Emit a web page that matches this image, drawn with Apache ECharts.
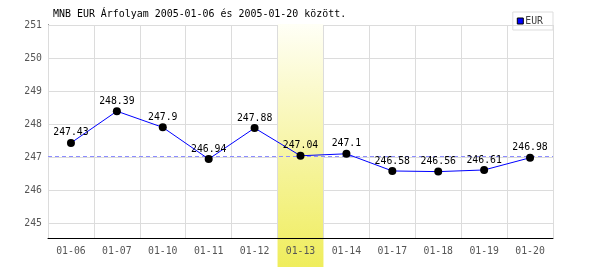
<!DOCTYPE html>
<html><head><meta charset="utf-8">
<script src="https://cdn.jsdelivr.net/npm/echarts@6/dist/echarts.min.js"></script>
<style>html,body{margin:0;padding:0;background:#fff}#c{width:600px;height:270px}</style>
</head><body><div id="c"></div>
<script>
var categories = ['01-06','01-07','01-10','01-11','01-12','01-13','01-14','01-17','01-18','01-19','01-20'];
var eurValues = [247.43,248.39,247.9,246.94,247.88,247.04,247.1,246.58,246.56,246.61,246.98];
var highlightDay = '01-13';
var referenceValue = 247.04;
var yTicks = [245,246,247,248,249,250,251];
var titleText = 'MNB EUR Árfolyam 2005-01-06 és 2005-01-20 között.';
var seriesName = 'EUR';

var bandData = categories.map(function(c){ return c === highlightDay ? 1 : null; });
var font = 'DejaVu Sans Mono';
var fs = 9.8;

var chart = echarts.init(document.getElementById('c'), null, {renderer:'canvas'});
chart.setOption({
  animation:false,
  backgroundColor:'#fff',
  title:{text:titleText,left:53,top:9,padding:0,textStyle:{fontFamily:font,fontSize:9.95,fontWeight:'normal',color:'#000'}},
  legend:{
    data:[{name:seriesName,icon:'rect',itemStyle:{color:'#0000ff',borderColor:'#000',borderWidth:1}}],
    right:47,top:12,orient:'vertical',
    padding:[4,10,4,4],itemWidth:6,itemHeight:6,itemGap:0,
    borderColor:'#dddddd',borderWidth:1,
    textStyle:{fontFamily:font,fontSize:fs,color:'#444',padding:[0,0,0,-3]}
  },
  grid:[
    {left:48,right:47,top:25,bottom:32},
    {left:48,right:47,top:24,bottom:3}
  ],
  xAxis:[
    {type:'category',data:categories,gridIndex:0,boundaryGap:true,z:5,
     axisLine:{lineStyle:{color:'#000',width:1}},axisTick:{show:false},
     axisLabel:{fontFamily:font,fontSize:fs,color:'#555',margin:8,interval:0},
     splitLine:{show:true,interval:0,lineStyle:{color:'#dcdcdc',width:1}}},
    {type:'category',data:categories,gridIndex:1,boundaryGap:true,show:false}
  ],
  yAxis:[
    {type:'value',gridIndex:0,min:244.55,max:251,splitNumber:5,z:0,
     axisLine:{show:true,lineStyle:{color:'#000',width:1}},axisTick:{show:false},
     axisLabel:{fontFamily:font,fontSize:fs,color:'#555',margin:6,showMinLabel:false,
       formatter:function(v){ return yTicks.indexOf(v) >= 0 ? String(v) : ''; }},
     splitLine:{show:true,lineStyle:{color:'#dcdcdc',width:1}}},
    {type:'value',gridIndex:1,min:0,max:1,show:false}
  ],
  series:[
    {type:'line',xAxisIndex:0,yAxisIndex:0,data:[],z:1,silent:true,
     markLine:{symbol:'none',silent:true,label:{show:false},
       lineStyle:{color:'#8c8cff',type:[4,3],width:1},
       data:[{yAxis:referenceValue}]}},
    {type:'bar',xAxisIndex:1,yAxisIndex:1,data:bandData,z:2,barWidth:'100%',silent:true,
     itemStyle:{color:new echarts.graphic.LinearGradient(0,0,0,1,[
       {offset:0,color:'#fffff6'},{offset:0.5,color:'#f7f5a8'},{offset:1,color:'#efed5c'}])}},
    {type:'line',name:seriesName,xAxisIndex:0,yAxisIndex:0,data:eurValues,z:6,
     symbol:'circle',symbolSize:8,
     lineStyle:{color:'#0000ff',width:1},
     itemStyle:{color:'#000'},
     label:{show:true,position:'top',distance:1,fontFamily:font,fontSize:fs,color:'#000'}}
  ]
});
</script></body></html>
